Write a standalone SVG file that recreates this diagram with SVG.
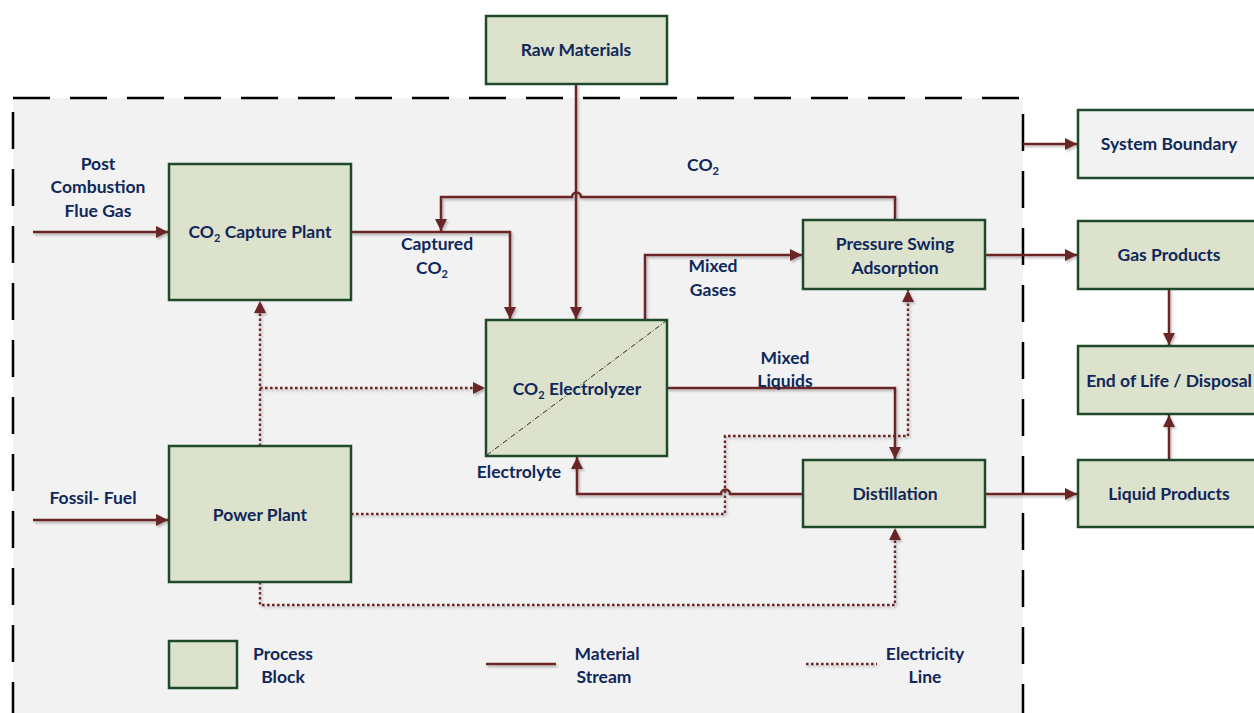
<svg xmlns="http://www.w3.org/2000/svg" width="1254" height="713" viewBox="0 0 1254 713">
<defs>
<marker id="ah" viewBox="0 0 10 10" refX="10" refY="5" markerWidth="12" markerHeight="12" markerUnits="userSpaceOnUse" orient="auto">
<path d="M0,0 L10,5 L0,10 z" fill="#6b2525"/>
</marker>
<filter id="sh" x="-5%" y="-5%" width="110%" height="110%">
<feDropShadow dx="1.5" dy="2" stdDeviation="1.2" flood-color="#000" flood-opacity="0.25"/>
</filter>
<style>
.blk{fill:#dde2cc;stroke:#1f4a2a;stroke-width:2.5}
.sb{fill:#f2f2f2;stroke:#1f4a2a;stroke-width:2.5}
.t{font-family:Lato,"Open Sans",sans-serif;font-weight:bold;font-size:17.5px;fill:#0f275a;text-anchor:middle}
.sub{font-size:11px}
.m{fill:none;stroke:#6b2525;stroke-width:2.5}
.e{fill:none;stroke:#6b2525;stroke-width:2.4;stroke-dasharray:2.6 2.4}
</style>
</defs>
<rect width="1254" height="713" fill="#ffffff"/>
<rect x="13" y="98" width="1010" height="640" fill="#f2f2f2" stroke="#000" stroke-width="2.5" stroke-dasharray="37 20"/>

<g id="connectors">
<g filter="url(#sh)">
<path class="m" d="M33,232 H168" marker-end="url(#ah)"/>
<path class="m" d="M33,520 H168" marker-end="url(#ah)"/>
<path class="m" d="M351,232 H510 V319" marker-end="url(#ah)"/>
<path class="m" d="M576,84 V319" marker-end="url(#ah)"/>
<path class="m" d="M895,220 V197 H581 A4.5,4.5 0 0 0 572,197 H441 V231" marker-end="url(#ah)"/>
<path class="m" d="M645,320 V255 H802" marker-end="url(#ah)"/>
<path class="m" d="M667,388 H895 V459" marker-end="url(#ah)"/>
<path class="m" d="M803,494 H730 A4.5,4.5 0 0 0 721,494 H577 V457" marker-end="url(#ah)"/>
<path class="m" d="M985,255 H1077" marker-end="url(#ah)"/>
<path class="m" d="M985,494 H1077" marker-end="url(#ah)"/>
<path class="m" d="M1023,144 H1077" marker-end="url(#ah)"/>
<path class="m" d="M1169,289 V345" marker-end="url(#ah)"/>
<path class="m" d="M1169,460 V415" marker-end="url(#ah)"/>
<path class="e" d="M260,446 V301" marker-end="url(#ah)"/>
<path class="e" d="M260,388 H485" marker-end="url(#ah)"/>
<path class="e" d="M351,514 H725 V436 H908 V290" marker-end="url(#ah)"/>
<path class="e" d="M260,582 V605 H895 V528" marker-end="url(#ah)"/>
<path class="m" d="M486,664 H556"/>
<path class="e" d="M806,664 H877"/>
</g>
</g>

<g id="raw-materials"><rect class="blk" x="486" y="16" width="181" height="68"/><text class="t" x="576" y="56">Raw Materials</text></g>
<g id="capture-plant"><rect class="blk" x="169" y="164" width="182" height="136"/><text class="t" x="260" y="238">CO<tspan class="sub" dy="4">2</tspan><tspan dy="-4"> Capture Plant</tspan></text></g>
<g id="power-plant"><rect class="blk" x="169" y="446" width="182" height="136"/><text class="t" x="260" y="521">Power Plant</text></g>
<g id="electrolyzer"><rect class="blk" x="486" y="320" width="181" height="136"/><line x1="487" y1="455" x2="666" y2="321" stroke="#111" stroke-width="0.9" stroke-dasharray="5 2 1 2"/><text class="t" x="577" y="395">CO<tspan class="sub" dy="4">2</tspan><tspan dy="-4"> Electrolyzer</tspan></text></g>
<g id="psa"><rect class="blk" x="803" y="220" width="182" height="69"/><text class="t" x="895" y="250">Pressure Swing</text><text class="t" x="895" y="274">Adsorption</text></g>
<g id="distillation"><rect class="blk" x="803" y="460" width="182" height="67"/><text class="t" x="895" y="500">Distillation</text></g>
<g id="system-boundary"><rect class="sb" x="1078" y="110" width="190" height="68"/><text class="t" x="1169" y="150">System Boundary</text></g>
<g id="gas-products"><rect class="blk" x="1078" y="221" width="190" height="68"/><text class="t" x="1169" y="261">Gas Products</text></g>
<g id="end-of-life"><rect class="blk" x="1078" y="346" width="190" height="68"/><text class="t" x="1169" y="387">End of Life / Disposal</text></g>
<g id="liquid-products"><rect class="blk" x="1078" y="460" width="190" height="67"/><text class="t" x="1169" y="500">Liquid Products</text></g>

<g id="labels">
<text class="t" x="98" y="170">Post</text>
<text class="t" x="98" y="193">Combustion</text>
<text class="t" x="98" y="217">Flue Gas</text>
<text class="t" x="93" y="504">Fossil- Fuel</text>
<text class="t" x="437" y="250">Captured</text>
<text class="t" x="432" y="274">CO<tspan class="sub" dy="4">2</tspan></text>
<text class="t" x="703" y="171">CO<tspan class="sub" dy="4">2</tspan></text>
<text class="t" x="713" y="272">Mixed</text>
<text class="t" x="713" y="296">Gases</text>
<text class="t" x="785" y="364">Mixed</text>
<text class="t" x="785" y="387">Liquids</text>
<text class="t" x="519" y="478">Electrolyte</text>
</g>

<g id="legend">
<rect class="blk" x="169" y="641" width="68" height="47"/>
<text class="t" x="283" y="660">Process</text>
<text class="t" x="283" y="683">Block</text>
<text class="t" x="607" y="660">Material</text>
<text class="t" x="604" y="683">Stream</text>
<text class="t" x="925" y="660">Electricity</text>
<text class="t" x="925" y="683">Line</text>
</g>
</svg>
